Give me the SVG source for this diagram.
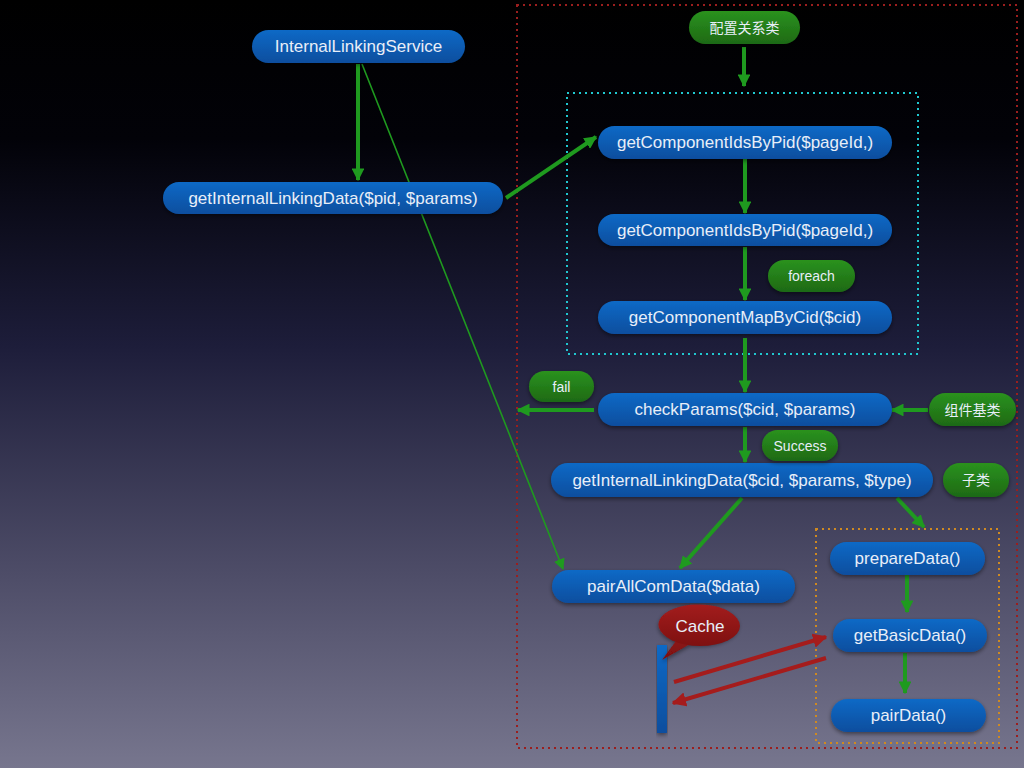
<svg xmlns="http://www.w3.org/2000/svg" width="1024" height="768" viewBox="0 0 1024 768">
<defs>
<linearGradient id="bg" x1="0" y1="0" x2="0" y2="1">
<stop offset="0" stop-color="#000000"/>
<stop offset="0.18" stop-color="#020208"/>
<stop offset="0.45" stop-color="#1d1d3a"/>
<stop offset="0.75" stop-color="#4e4d68"/>
<stop offset="1" stop-color="#77768e"/>
</linearGradient>
<linearGradient id="blue" x1="0" y1="0" x2="0" y2="1">
<stop offset="0" stop-color="#0b69c6"/>
<stop offset="1" stop-color="#0a4e9e"/>
</linearGradient>
<linearGradient id="green" x1="0" y1="0" x2="0" y2="1">
<stop offset="0" stop-color="#2a921f"/>
<stop offset="1" stop-color="#1e6914"/>
</linearGradient>
<linearGradient id="red" x1="0" y1="0" x2="0" y2="1">
<stop offset="0" stop-color="#a11c1c"/>
<stop offset="1" stop-color="#7e1010"/>
</linearGradient>
<marker id="ga" viewBox="0 0 10 10" refX="9" refY="5" markerWidth="3.2" markerHeight="3.2" orient="auto" markerUnits="strokeWidth">
<path d="M0,0 L10,5 L0,10 z" fill="#1f9a1f"/>
</marker>
<marker id="gat" viewBox="0 0 10 10" refX="9" refY="5" markerWidth="7" markerHeight="7" orient="auto" markerUnits="strokeWidth">
<path d="M0,0 L10,5 L0,10 z" fill="#1f9a1f"/>
</marker>
<marker id="ra" viewBox="0 0 10 10" refX="9" refY="5" markerWidth="3.6" markerHeight="3.6" orient="auto" markerUnits="strokeWidth">
<path d="M0,0 L10,5 L0,10 z" fill="#a51c1c"/>
</marker>
<filter id="sh" x="-10%" y="-30%" width="120%" height="170%">
<feDropShadow dx="0" dy="2" stdDeviation="2" flood-color="#000" flood-opacity="0.45"/>
</filter>
</defs>
<style>
.b{fill:url(#blue);filter:url(#sh)}
.g{fill:url(#green);filter:url(#sh)}
.t{font-family:"Liberation Sans","Noto Sans CJK SC",sans-serif;font-size:17px;fill:#e8eef8;text-anchor:middle;dominant-baseline:central}
.ts{font-size:14px}
.ga{stroke:#1f9a1f;stroke-width:4;fill:none;marker-end:url(#ga)}
.gt{stroke:#1f9a1f;stroke-width:1.6;fill:none;marker-end:url(#gat)}
.ra{stroke:#a51c1c;stroke-width:4;fill:none;marker-end:url(#ra)}
.box{fill:none;stroke-width:2;stroke-dasharray:2 4}
</style>
<rect width="1024" height="768" fill="url(#bg)"/>
<g id="boxes">
<rect class="box" x="517" y="5" width="500" height="743" stroke="#9a1e1e"/>
<rect class="box" x="567" y="93" width="351" height="261" stroke="#20c8d0"/>
<rect class="box" x="816" y="529" width="183" height="214" stroke="#d08a20"/>
</g>
<g id="connectors">
<line class="ga" x1="358" y1="64" x2="358" y2="180"/>
<line class="gt" x1="362" y1="64" x2="563" y2="569"/>
<line class="ga" x1="506" y1="198" x2="596" y2="137"/>
<line class="ga" x1="744" y1="47" x2="744" y2="86"/>
<line class="ga" x1="745" y1="159" x2="745" y2="213"/>
<line class="ga" x1="745" y1="247" x2="745" y2="300"/>
<line class="ga" x1="745" y1="338" x2="745" y2="392"/>
<line class="ga" x1="594" y1="410" x2="518" y2="410"/>
<line class="ga" x1="928" y1="410" x2="892" y2="410"/>
<line class="ga" x1="745" y1="427" x2="745" y2="462"/>
<line class="ga" x1="742" y1="498" x2="680" y2="568"/>
<line class="ga" x1="897" y1="498" x2="924" y2="527"/>
<line class="ga" x1="907" y1="575" x2="907" y2="612"/>
<line class="ga" x1="905" y1="653" x2="905" y2="693"/>
<line class="ra" x1="674" y1="682" x2="826" y2="637"/>
<line class="ra" x1="826" y1="658" x2="673" y2="703"/>
</g>
<g id="n1"><rect class="b" x="252" y="30" width="213" height="33" rx="16.5"/><text class="t" x="358.5" y="46.5">InternalLinkingService</text></g>
<g id="n2"><rect class="b" x="163" y="182" width="340" height="32" rx="16"/><text class="t" x="333" y="198">getInternalLinkingData($pid, $params)</text></g>
<g id="n3"><rect class="b" x="598" y="126" width="294" height="33" rx="16.5"/><text class="t" x="745" y="142.5">getComponentIdsByPid($pageId,)</text></g>
<g id="n4"><rect class="b" x="598" y="214" width="294" height="32" rx="16"/><text class="t" x="745" y="230">getComponentIdsByPid($pageId,)</text></g>
<g id="n5"><rect class="b" x="598" y="301" width="294" height="33" rx="16.5"/><text class="t" x="745" y="317.5">getComponentMapByCid($cid)</text></g>
<g id="n6"><rect class="b" x="598" y="393" width="294" height="33" rx="16.5"/><text class="t" x="745" y="409.5">checkParams($cid, $params)</text></g>
<g id="n7"><rect class="b" x="551" y="463" width="382" height="34" rx="17"/><text class="t" x="742" y="480">getInternalLinkingData($cid, $params, $type)</text></g>
<g id="n8"><rect class="b" x="552" y="570" width="243" height="33" rx="16.5"/><text class="t" x="673.5" y="586.5">pairAllComData($data)</text></g>
<g id="n9"><rect class="b" x="830" y="542" width="155" height="33" rx="16.5"/><text class="t" x="907.5" y="558.5">prepareData()</text></g>
<g id="n10"><rect class="b" x="833" y="619" width="154" height="33" rx="16.5"/><text class="t" x="910" y="635.5">getBasicData()</text></g>
<g id="n11"><rect class="b" x="831" y="699" width="155" height="33" rx="16.5"/><text class="t" x="908.5" y="715.5">pairData()</text></g>
<g id="g1"><rect class="g" x="689" y="11" width="111" height="33" rx="16.5"/><text class="t ts" x="744.5" y="27.5">配置关系类</text></g>
<g id="g2"><rect class="g" x="768" y="260" width="87" height="32" rx="16"/><text class="t ts" x="811.5" y="276">foreach</text></g>
<g id="g3"><rect class="g" x="529" y="371" width="65" height="31" rx="15.5"/><text class="t ts" x="561.5" y="386.5">fail</text></g>
<g id="g4"><rect class="g" x="929" y="393" width="87" height="33" rx="16.5"/><text class="t ts" x="972.5" y="409.5">组件基类</text></g>
<g id="g5"><rect class="g" x="762" y="430" width="76" height="31" rx="15.5"/><text class="t ts" x="800" y="445.5">Success</text></g>
<g id="g6"><rect class="g" x="943" y="463" width="66" height="34" rx="17"/><text class="t ts" x="976" y="480">子类</text></g>
<g id="cache">
<rect x="657" y="645" width="10" height="88" fill="url(#blue)" filter="url(#sh)"/>
<path d="M662,660 L676,641 A40,20 0 1 1 690,644 Z" fill="url(#red)" filter="url(#sh)"/>
<ellipse cx="700" cy="626" rx="40" ry="20" fill="url(#red)"/>
<text class="t" x="700" y="626">Cache</text>
</g>
</svg>
